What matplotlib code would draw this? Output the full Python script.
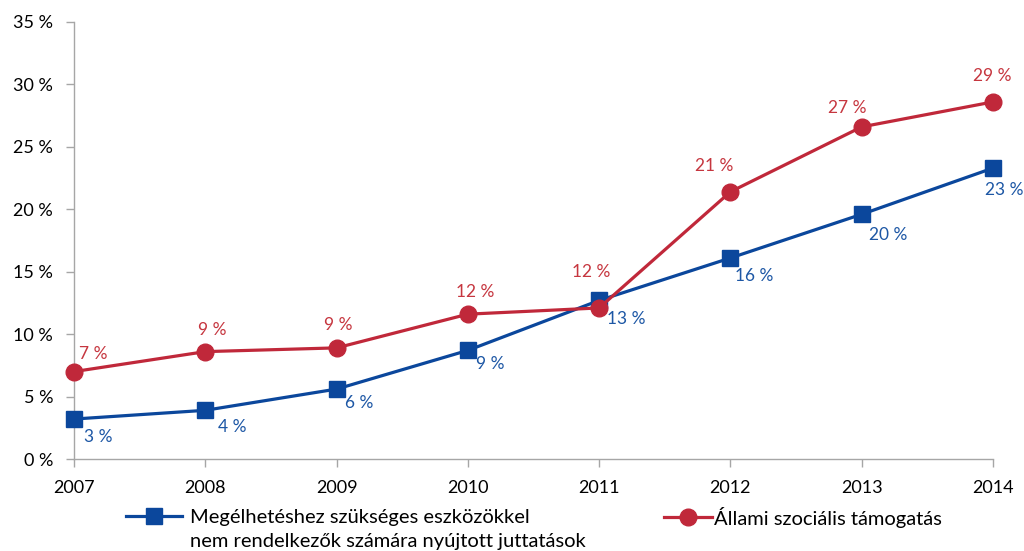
import matplotlib
matplotlib.use("Agg")
import matplotlib.pyplot as plt
from matplotlib.lines import Line2D

plt.rcParams['font.family'] = ['Lato', 'DejaVu Sans']

years = [2007, 2008, 2009, 2010, 2011, 2012, 2013, 2014]
benefits = [3.2, 3.9, 5.6, 8.7, 12.7, 16.1, 19.6, 23.3]
state_support = [7.0, 8.6, 8.9, 11.6, 12.1, 21.4, 26.6, 28.6]
y_ticks = [0, 5, 10, 15, 20, 25, 30, 35]

name_benefits = ["Megélhetéshez szükséges eszközökkel",
                 "nem rendelkezők számára nyújtott juttatások"]
name_state = "Állami szociális támogatás"

BLUE = "#0B479C"
BLUE_TXT = "#1D57A5"
RED = "#C0283A"
RED_TXT = "#C6363F"
GRAY = "#A6A6A6"

W, H = 1024, 551
fig = plt.figure(figsize=(W / 100, H / 100), dpi=100)
ax = fig.add_axes([74 / W, 1 - 459 / H, (993 - 74) / W, (459 - 22) / H])

ax.plot(years, benefits, color=BLUE, lw=2.3, marker='s', ms=11, mec=BLUE, mfc=BLUE,
        clip_on=False, zorder=3)
ax.plot(years, state_support, color=RED, lw=2.3, marker='o', ms=12, mec=RED, mfc=RED,
        clip_on=False, zorder=4)

# value labels: blue to the lower right, red above the marker
blue_dx = [10, 13, 8, 8, 8, 5, 7, -8]
blue_dy = [-18, -17, -14, -14, -19, -18, -21, -22]
for x, v, dx, dy in zip(years, benefits, blue_dx, blue_dy):
    ax.annotate(f"{v:.0f} %", (x, v), xytext=(dx, dy), textcoords='offset pixels',
                ha='left', va='center', color=BLUE_TXT, fontsize=12.5, zorder=5,
                annotation_clip=False)

red_dx = [19, 7, 2, 7, -8, -16, -14, -1]
red_dy = [18, 22, 23, 22, 36, 26, 19, 26]
for x, v, dx, dy in zip(years, state_support, red_dx, red_dy):
    ax.annotate(f"{v:.0f} %", (x, v), xytext=(dx, dy), textcoords='offset pixels',
                ha='center', va='center', color=RED_TXT, fontsize=12.5, zorder=5,
                annotation_clip=False)

ax.set_xlim(years[0], years[-1])
ax.set_ylim(0, 35)
ax.set_xticks(years)
ax.set_xticklabels([str(y) for y in years])
ax.set_yticks(y_ticks)
ax.set_yticklabels([f"{t} %" for t in y_ticks])

for side in ('top', 'right'):
    ax.spines[side].set_visible(False)
for side in ('left', 'bottom'):
    ax.spines[side].set_color(GRAY)
    ax.spines[side].set_linewidth(1.0)
ax.tick_params(axis='both', colors=GRAY, labelcolor='black', labelsize=13,
               length=6, width=1.0, direction='out')
ax.tick_params(axis='y', pad=9)
ax.tick_params(axis='x', pad=9)

h_blue = Line2D([], [], color=BLUE, lw=2.3, marker='s', ms=11, mfc=BLUE, mec=BLUE)
h_red = Line2D([], [], color=RED, lw=2.3, marker='o', ms=12, mfc=RED, mec=RED)

LEG_Y = 1 - 517 / H
leg1 = fig.legend([h_blue], [name_benefits[0]], loc='center left',
                  bbox_to_anchor=(126 / W, LEG_Y), frameon=False,
                  fontsize=14.5, handlelength=2.8, handletextpad=0.4,
                  borderaxespad=0, borderpad=0)
fig.legend([h_red], [name_state], loc='center left',
           bbox_to_anchor=(664 / W, LEG_Y), frameon=False,
           fontsize=14.5, handlelength=2.4, handletextpad=0.1,
           borderaxespad=0, borderpad=0)

# second line of the blue legend entry, aligned with the first line
fig.canvas.draw()
x0 = leg1.get_texts()[0].get_window_extent().x0 / W
fig.text(x0, 1 - 541 / H, name_benefits[1], ha='left', va='center', fontsize=14.5)

fig.savefig("out.png", dpi=100)
